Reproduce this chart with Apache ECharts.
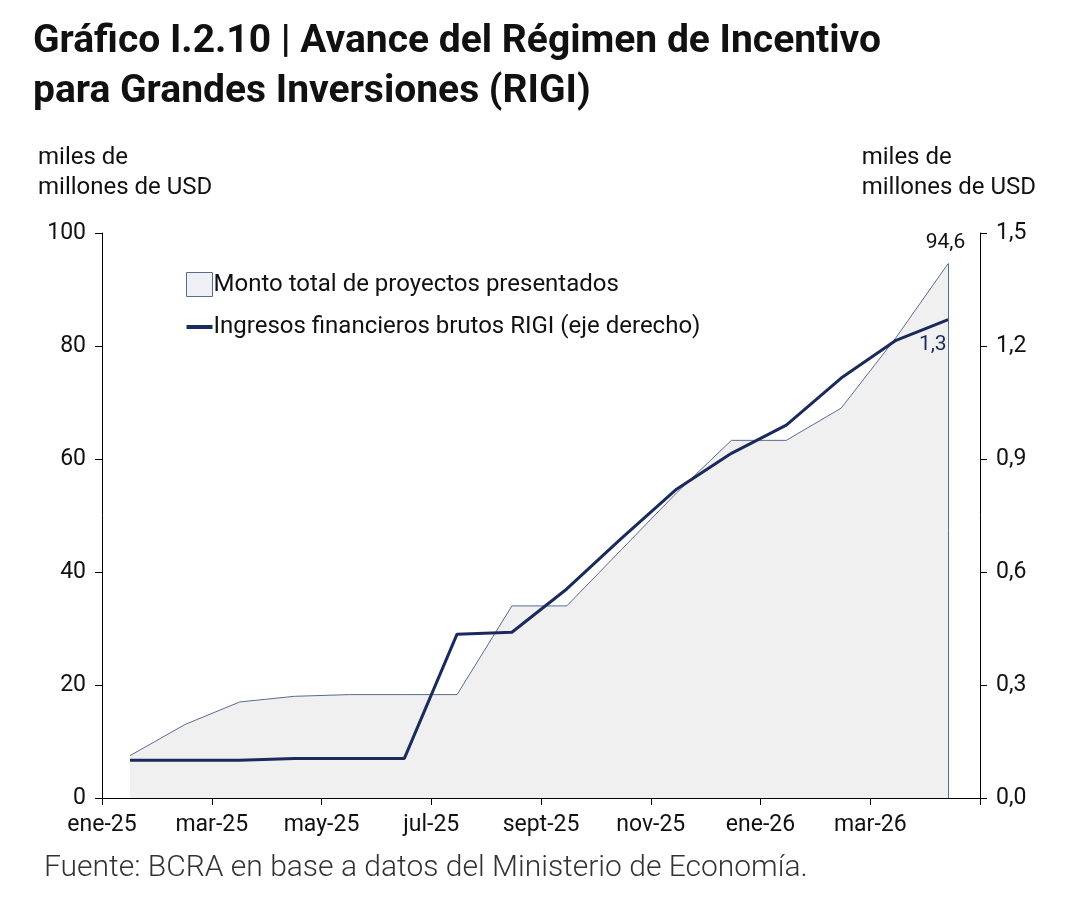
<!DOCTYPE html>
<html><head><meta charset="utf-8">
<script src="https://cdn.jsdelivr.net/npm/echarts@6/dist/echarts.min.js"></script>
<style>html,body{margin:0;padding:0;background:#fff}#c{width:1084px;height:912px}</style>
</head><body><div id="c"></div>
<script>
// x positions in months (axis unit), labels at even ticks
const tickLabels = ['ene-25','mar-25','may-25','jul-25','sept-25','nov-25','ene-26','mar-26',''];
const areaX = [0.51,1.51,2.51,3.51,4.51,5.51,6.47,7.47,8.47,9.47,10.47,11.47,12.47,13.47,14.47,15.42];
const areaVals = [7.5,13,17,18,18.3,18.3,18.3,34,34,44,54,63.3,63.3,69,81.5,94.6];
const lineX = [0.51,1.51,2.51,3.51,4.51,5.51,6.47,7.47,8.47,9.47,10.47,11.47,12.47,13.47,14.47,15.42];
const lineVals = [0.1,0.1,0.1,0.105,0.105,0.105,0.435,0.44,0.555,0.69,0.82,0.915,0.99,1.115,1.215,1.27];
const navy = '#1b2a5c';
const font = 'Roboto';
const chart = echarts.init(document.getElementById('c'));
chart.setOption({
  animation:false,
  textStyle:{fontFamily:font},
  grid:{left:102,right:104,top:233,bottom:114},
  title:{text:'Gráfico I.2.10 | Avance del Régimen de Incentivo\npara Grandes Inversiones (RIGI)',left:28,top:12,
    textStyle:{fontSize:39,fontWeight:'bold',color:'#111',lineHeight:50,fontFamily:font}},
  legend:{orient:'vertical',left:181,top:267,itemGap:18,itemWidth:26,itemHeight:24,itemStyle:{},
    textStyle:{fontSize:24,color:'#111',padding:[0,0,0,-4]},
    data:[{name:'Monto total de proyectos presentados',icon:'rect',itemStyle:{color:'#eef0f4',borderColor:'#5a6a94',borderWidth:1}},
          {name:'Ingresos financieros brutos RIGI (eje derecho)',icon:'path://M0,10L26,10L26,14L0,14Z',itemStyle:{color:navy}}]},
  xAxis:{type:'value',min:0,max:16,interval:2,
    axisLine:{lineStyle:{color:'#000'}},axisTick:{show:true,length:7,lineStyle:{color:'#000'}},
    splitLine:{show:false},
    axisLabel:{fontSize:23,color:'#111',margin:16,formatter:v=>tickLabels[v/2]||''}},
  yAxis:[
    {type:'value',min:0,max:100,interval:20,axisLine:{show:true,lineStyle:{color:'#000'}},
     axisTick:{show:true,length:7,lineStyle:{color:'#000'}},splitLine:{show:false},
     axisLabel:{fontSize:23,color:'#111',margin:16}},
    {type:'value',min:0,max:1.5,interval:0.3,axisLine:{show:true,lineStyle:{color:'#000'}},
     axisTick:{show:true,length:7,lineStyle:{color:'#000'}},splitLine:{show:false},
     axisLabel:{fontSize:23,color:'#111',margin:16,formatter:v=>v.toFixed(1).replace('.',',')}}
  ],
  series:[
    {name:'Monto total de proyectos presentados',type:'line',yAxisIndex:0,symbol:'none',
     data:areaX.map((x,i)=>[x,areaVals[i]]),
     lineStyle:{color:'#5a6a94',width:1},areaStyle:{color:'#f0f0f0',opacity:1},
     itemStyle:{color:'#eef0f4'},
     markLine:{silent:true,symbol:'none',label:{show:false},lineStyle:{color:'#5a6a94',width:1,type:'solid'},
       data:[[{coord:[areaX[areaX.length-1],0]},{coord:[areaX[areaX.length-1],areaVals[areaVals.length-1]]}]]},
     markPoint:{symbol:'circle',symbolSize:1,itemStyle:{color:'transparent'},
       label:{show:true,position:'top',distance:10,fontSize:21,color:'#111',formatter:'94,6'},
       data:[{coord:[areaX[areaX.length-1]-0.05,areaVals[areaVals.length-1]]}]}},
    {name:'Ingresos financieros brutos RIGI (eje derecho)',type:'line',yAxisIndex:1,symbol:'none',
     data:lineX.map((x,i)=>[x,lineVals[i]]),lineStyle:{color:navy,width:3},itemStyle:{color:navy},
     markPoint:{symbol:'circle',symbolSize:1,itemStyle:{color:'transparent'},
       label:{show:true,position:'bottom',distance:14,fontSize:21,color:navy,formatter:'1,3'},
       data:[{coord:[lineX[lineX.length-1]-0.28,lineVals[lineVals.length-1]]}]}}
  ],
  graphic:[
    {type:'text',left:38,top:143,style:{text:'miles de\nmillones de USD',fontSize:24,lineHeight:30,fill:'#111',fontFamily:font}},
    {type:'text',right:48,top:143,style:{text:'miles de\nmillones de USD',fontSize:24,lineHeight:30,fill:'#111',fontFamily:font,align:'right'}},
    {type:'text',left:44,top:853,style:{text:'Fuente: BCRA en base a datos del Ministerio de Economía.',fontSize:30,fill:'#333',fontFamily:font,fontWeight:300}}
  ]
});
</script></body></html>
